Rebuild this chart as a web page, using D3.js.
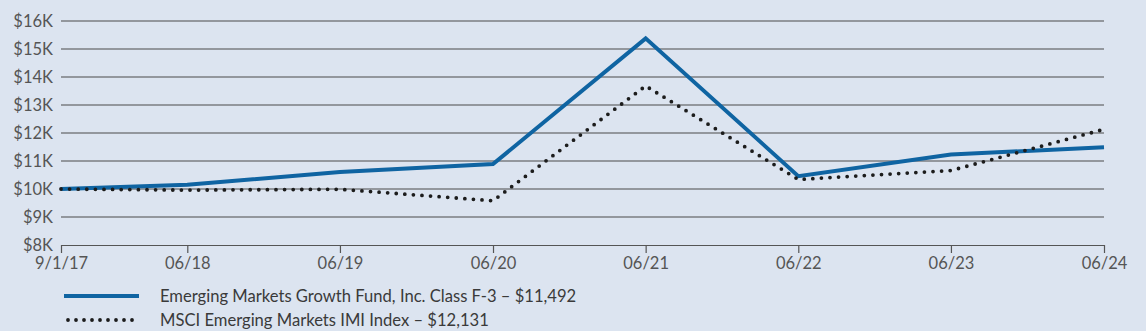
<!DOCTYPE html>
<html><head><meta charset="utf-8">
<script src="https://cdn.jsdelivr.net/npm/d3@7"></script>
<style>
html,body{margin:0;padding:0;background:#dce4f0;}
svg{display:block;font-family:Lato,"Open Sans",sans-serif;}
</style></head>
<body><svg id="c" width="1146" height="331"></svg>
<script>
const dates = ["2017-09-01","2018-06-30","2019-06-30","2020-06-30","2021-06-30","2022-06-30","2023-06-30","2024-06-30"];
const tickLabels = ["9/1/17","06/18","06/19","06/20","06/21","06/22","06/23","06/24"];
const fundValues = [10000,10150,10610,10890,15380,10460,11230,11492];
const indexValues = [10000,9960,9990,9580,13680,10340,10660,12131];
const yTicks = [8000,9000,10000,11000,12000,13000,14000,15000,16000];
const seriesNames = ["Emerging Markets Growth Fund, Inc. Class F-3 \u2013 $11,492","MSCI Emerging Markets IMI Index \u2013 $12,131"];

const parse = d3.timeParse("%Y-%m-%d");
const dts = dates.map(parse);
const svg = d3.select("#c");
const x = d3.scaleTime().domain([dts[0], dts[dts.length-1]]).range([61,1104]);
const y = d3.scaleLinear().domain([8000,16000]).range([245,21]);

// grid
svg.append("g").selectAll("line").data(yTicks.slice(1)).join("line")
  .attr("x1",61).attr("x2",1104).attr("y1",d=>y(d)).attr("y2",d=>y(d))
  .attr("stroke","#4a4a4a").attr("stroke-width",1.2);

// y labels
svg.append("g").selectAll("text").data(yTicks).join("text")
  .attr("x",53).attr("y",d=>y(d)+5.5).attr("text-anchor","end")
  .attr("fill","#555").attr("font-size",16.5).text(d=>"$"+(d/1000)+"K");

// x axis
const xa = svg.append("g").attr("transform","translate(0,245)")
  .call(d3.axisBottom(x).tickValues(dts).tickFormat((d,i)=>tickLabels[i]).tickSize(8).tickSizeOuter(0));
xa.select(".domain").attr("stroke","#555").attr("stroke-width",1.2);
xa.selectAll(".tick line").attr("stroke","#555").attr("stroke-width",1.2);
xa.selectAll(".tick text").attr("fill","#555").attr("font-size",16.5).attr("font-family","Lato,'Open Sans',sans-serif")
  .attr("dy",null).attr("y",24);

const line = d3.line().x((d,i)=>x(dts[i])).y(d=>y(d));
svg.append("path").datum(fundValues).attr("d",line).attr("fill","none")
  .attr("stroke","#0f64a2").attr("stroke-width",4);
svg.append("path").datum(indexValues).attr("d",line).attr("fill","none")
  .attr("stroke","#1c1c1c").attr("stroke-width",3.8).attr("stroke-linecap","round")
  .attr("stroke-dasharray","0 8.6");

// legend
const lg = svg.append("g");
lg.append("line").attr("x1",64).attr("x2",139).attr("y1",296).attr("y2",296)
  .attr("stroke","#0f64a2").attr("stroke-width",4);
lg.append("line").attr("x1",68).attr("x2",140).attr("y1",320).attr("y2",320)
  .attr("stroke","#1c1c1c").attr("stroke-width",3.8).attr("stroke-linecap","round").attr("stroke-dasharray","0 8");
lg.selectAll("text").data(seriesNames).join("text")
  .attr("x",160).attr("y",(d,i)=>302+i*24).attr("fill","#3a3a3a").attr("font-size",16.6).text(d=>d);
</script></body></html>
